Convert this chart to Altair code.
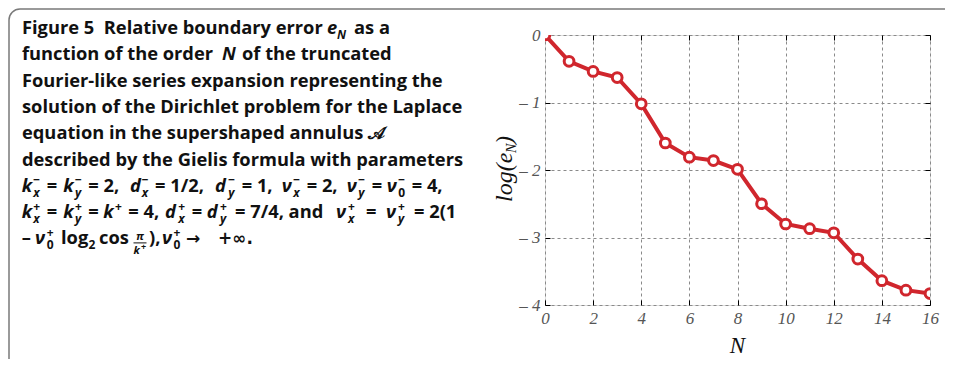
import altair as alt
import pandas as pd

# ---------------- data ----------------
N_vals = list(range(17))
log_eN = [0.0, -0.39, -0.54, -0.63, -1.02, -1.60, -1.81, -1.86, -1.99,
          -2.50, -2.80, -2.87, -2.93, -3.32, -3.64, -3.78, -3.83]
x_ticks = [0, 2, 4, 6, 8, 10, 12, 14, 16]
y_ticks = [-4, -3, -2, -1, 0]

NB = "\u00a0"
# caption (segment x on page, text, kind) per line
caption = [
    [(22, "Figure 5" + NB + NB + "Relative boundary error", "b"), (327, "e", "i"), (337, "N", "subi"), (354, "as a", "b")],
    [(22, "function of the order", "b"), (222, "N", "i"), (242, "of the truncated", "b")],
    [(22, "Fourier-like series expansion representing the", "b")],
    [(22, "solution of the Dirichlet problem for the Laplace", "b")],
    [(22, "equation in the supershaped annulus 𝒜", "b")],
    [(22, "described by the Gielis formula with parameters", "b")],
    [(21.7, "k", "i"), (33.3, "−", "sup"), (33.3, "x", "subi"), (46.7, "=", "b"),
     (63.3, "k", "i"), (75, "−", "sup"), (75, "y", "subi"), (88.3, "= 2,", "b"),
     (130, "d", "i"), (141.7, "−", "sup"), (141.7, "x", "subi"), (155, "= 1/2,", "b"),
     (215, "d", "i"), (228.3, "−", "sup"), (228.3, "y", "subi"), (241.7, "= 1,", "b"),
     (281.7, "ν", "i"), (293.3, "−", "sup"), (293.3, "x", "subi"), (306.7, "= 2,", "b"),
     (346.7, "ν", "i"), (358.3, "−", "sup"), (358.3, "y", "subi"), (371.7, "=", "b"),
     (386.7, "ν", "i"), (398.3, "−", "sup"), (398.3, "0", "sub"), (411.7, "= 4,", "b")],
    [(21.7, "k", "i"), (33.3, "+", "sup"), (33.3, "x", "subi"), (46.7, "=", "b"),
     (63.3, "k", "i"), (75, "+", "sup"), (75, "y", "subi"), (88.3, "=", "b"),
     (103.3, "k", "i"), (115, "+", "sup"), (128.3, "= 4,", "b"),
     (165, "d", "i"), (178.3, "+", "sup"), (178.3, "x", "subi"), (191.7, "=", "b"),
     (206.7, "d", "i"), (220, "+", "sup"), (220, "y", "subi"), (235, "= 7/4, and", "b"),
     (336, "ν", "i"), (348, "+", "sup"), (348, "x", "subi"), (366, "=", "b"),
     (386, "ν", "i"), (398, "+", "sup"), (398, "y", "subi"), (414, "= 2(1", "b")],
    [(21.7, "–", "b"), (35, "ν", "i"), (46.7, "+", "sup"), (46.7, "0", "sub"),
     (61, "log", "b"), (88.5, "2", "sub"), (99, "cos", "b"),
     (149, "),", "b"), (162, "ν", "i"), (173.5, "+", "sup"), (173.5, "0", "sub"),
     (186, "→", "sym"), (218, "+∞.", "sym")],
]

RED = "#d0262d"
PX0, PY0 = 545, 35          # plot-area origin on the page
W, H = 385, 270
LINE0, LS = 34, 26.3        # caption baselines
CAP_FONT = "Open Sans"
SERIF = "Liberation Serif"
FS, SS = 18.3, 12           # caption font size, script size

df = pd.DataFrame({"N": N_vals, "logE": log_eN})
one = pd.DataFrame({"a": [0]})

xs = alt.Scale(domain=[0, 16], nice=False, zero=False)
ys = alt.Scale(domain=[-4, 0], nice=False, zero=False)

main_x = alt.X("N:Q", scale=xs, axis=alt.Axis(
    orient="bottom", values=x_ticks, offset=-5, tickSize=5, tickColor="black",
    tickWidth=1, domain=False, grid=True, gridDash=[3, 3], gridColor="#8a8a8a",
    gridWidth=1, labelFont=SERIF, labelFontStyle="italic", labelFontSize=17,
    labelColor="#555555", labelPadding=5, labelFlush=False, title=None))
main_y = alt.Y("logE:Q", scale=ys, axis=alt.Axis(
    orient="left", values=y_ticks, offset=-5, tickSize=5, tickColor="black",
    tickWidth=1, domain=False, grid=True, gridDash=[3, 3], gridColor="#8a8a8a",
    gridWidth=1, labelFont=SERIF, labelFontStyle="italic", labelFontSize=17,
    labelColor="#555555", labelPadding=5, labelFlush=False,
    labelExpr="datum.value == 0 ? '0' : '– ' + abs(datum.value)", title=None))

line = alt.Chart(df).mark_line(color=RED, strokeWidth=4, clip=True).encode(x=main_x, y=main_y)
pts = alt.Chart(df).mark_point(shape="circle", filled=True, fill="white", stroke=RED,
                               strokeWidth=3, size=95, opacity=1, clip=True).encode(
    x=alt.X("N:Q", scale=xs, axis=None), y=alt.Y("logE:Q", scale=ys, axis=None))

ticks_tr = alt.Chart(df).mark_point(opacity=0).encode(
    x=alt.X("N:Q", scale=xs, axis=alt.Axis(orient="top", values=x_ticks, offset=-5, tickSize=5,
                                           tickColor="black", labels=False, grid=False,
                                           domain=False, title=None)),
    y=alt.Y("logE:Q", scale=ys, axis=alt.Axis(orient="right", values=y_ticks, offset=-5, tickSize=5,
                                              tickColor="black", labels=False, grid=False,
                                              domain=False, title=None)))

border = alt.Chart(one).mark_rect(fillOpacity=0, stroke="#7a7a7a", strokeWidth=1.5,
                                  cornerRadius=11).encode(
    x=alt.value(9 - PX0), x2=alt.value(1000 - PX0), y=alt.value(9 - PY0), y2=alt.value(420 - PY0))

layers = [border]


def txt(text, xpage, ypage, size, style="normal", weight="bold", font=CAP_FONT,
        align="left", angle=0, color="#111111"):
    kw = dict(text=text, align=align, baseline="alphabetic", font=font,
              fontWeight=weight, fontStyle=style, fontSize=size, color=color)
    if angle:
        kw["angle"] = angle
    return alt.Chart(one).mark_text(**kw).encode(x=alt.value(xpage - PX0), y=alt.value(ypage - PY0))


for i, segs in enumerate(caption):
    base = LINE0 + LS * i
    for xp, t, kind in segs:
        if kind == "b":
            layers.append(txt(t, xp, base, FS))
        elif kind == "sym":
            layers.append(txt(t, xp, base, 17, font="DejaVu Sans"))
        elif kind == "i":
            layers.append(txt(t, xp, base, FS, style="italic"))
        elif kind == "sup":
            layers.append(txt(t, xp, base - 7.5, SS))
        elif kind == "subi":
            layers.append(txt(t, xp, base + 5, SS, style="italic"))
        elif kind == "sub":
            layers.append(txt(t, xp, base + 5, SS))

# fraction pi / k+ in the last caption line
fb = LINE0 + LS * 8
layers.append(txt("π", 140, fb - 4, 11, style="italic", align="center"))
layers.append(alt.Chart(one).mark_rule(color="#111111", strokeWidth=1).encode(
    x=alt.value(133.5 - PX0), x2=alt.value(146.5 - PX0), y=alt.value(fb - 1.5 - PY0)))
layers.append(txt("k", 133.5, fb + 9.5, 11, style="italic"))
layers.append(txt("+", 141, fb + 5.5, 9))

layers += [ticks_tr, line, pts]

# axis titles
layers.append(txt("log(e", 512, 202, 24, style="italic", weight="normal", font=SERIF, angle=270))
layers.append(txt("N", 516, 153, 14, style="italic", weight="normal", font=SERIF, angle=270))
layers.append(txt(")", 512, 144, 24, style="italic", weight="normal", font=SERIF, angle=270))
layers.append(txt("N", 737.5, 353, 23, style="italic", weight="normal", font=SERIF, align="center"))

chart = alt.layer(*layers).resolve_axis(x="independent", y="independent").properties(
    width=W, height=H,
    autosize=alt.AutoSizeParams(type="none"),
    padding={"left": PX0 - 8, "top": PY0 - 8, "right": 945 - 8 - PX0 - W + 8, "bottom": 54},
).configure_view(stroke="black", strokeWidth=1.5).configure(background="white")

chart.save("out.html", embed_options={"renderer": "svg", "actions": False})
